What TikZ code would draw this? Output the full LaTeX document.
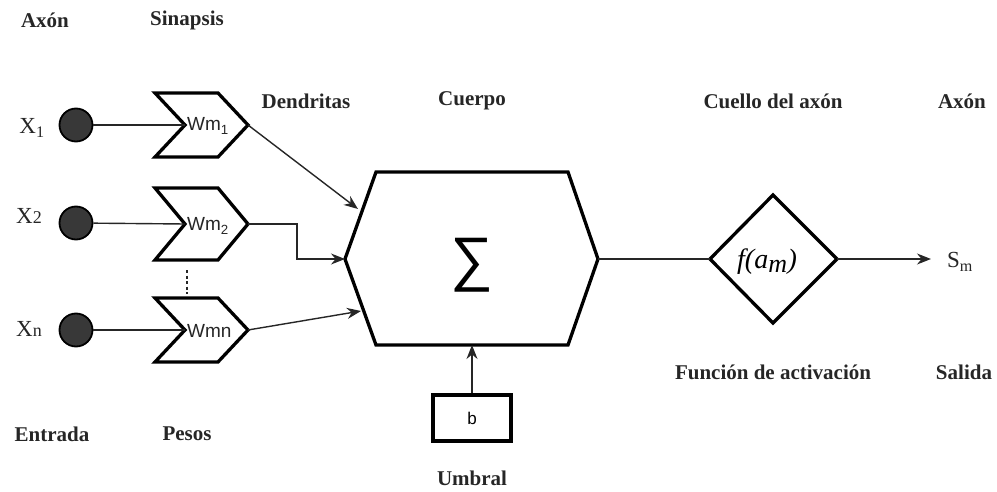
\documentclass[tikz,border=0pt]{standalone}
\usepackage{fontspec}
\setmainfont{Liberation Serif}
\newfontfamily\labsans{Liberation Sans}
\usetikzlibrary{arrows.meta}
\begin{document}
\begin{tikzpicture}[x=1pt,y=-1pt,
  shapeline/.style={draw=black,line width=3.3pt,line join=miter},
  conn/.style={draw=black!85,line width=1.4pt},
  arr/.style={conn,-{Stealth[length=14pt,width=11pt]}},
  title/.style={font=\fontsize{21}{24}\selectfont\bfseries,text=black!85,inner sep=0pt},
  varlab/.style={font=\fontsize{23}{26}\selectfont,text=black!85,inner sep=0pt},
  wlab/.style={font=\labsans\fontsize{19}{22}\selectfont,text=black!85,inner sep=0pt,anchor=west},
  neuron/.style={circle,draw=black,line width=1.8pt,fill=black!78,minimum size=33pt,inner sep=0pt}
]
\useasboundingbox (0,0) rectangle (997,492);

% headings
\node[title] (tAxonIn) at (45,20) {Axón};
\node[title] (tSin) at (187,20) {Sinapsis};
\node[title] (tDen) at (306,101) {Dendritas};
\node[title] (tCue) at (472,101) {Cuerpo};
\node[title] (tCuello) at (773,101) {Cuello del axón};
\node[title] (tAxonOut) at (962,101) {Axón};
\node[title] (tFun) at (773,372) {Función de activación};
\node[title] (tSal) at (964,372) {Salida};
\node[title] (tEnt) at (52,434) {Entrada};
\node[title] (tPes) at (187,434) {Pesos};
\node[title] (tUmb) at (472,478) {Umbral};

% input variables
\node[varlab] (x1) at (32,128) {X\textsubscript{1}};
\node[varlab] (x2) at (29,216) {X{\fontsize{18}{20}\selectfont 2}};
\node[varlab] (xn) at (29,329) {X{\fontsize{18}{20}\selectfont n}};

% input neurons
\node[neuron] (n1) at (76,125) {};
\node[neuron] (n2) at (76,223) {};
\node[neuron] (nn) at (76,330) {};

% weight chevrons: left x 155, notch 185, top-right 218, tip 248
\foreach \nm/\yc/\h in {c1/125/32, c2/224/36, cn/330/32}{
  \draw[shapeline] (155,\yc-\h) -- (218,\yc-\h) -- (248,\yc) -- (218,\yc+\h)
        -- (155,\yc+\h) -- (185,\yc) -- cycle;
  \coordinate (\nm-in) at (185,\yc);
  \coordinate (\nm-out) at (248,\yc);
}
\node[wlab] (w1) at (187,126) {Wm\textsubscript{1}};
\node[wlab] (w2) at (187,226) {Wm\textsubscript{2}};
\node[wlab] (wn) at (187,331) {Wmn};

% dots between the second and last weight
\coordinate (dotA) at (187,270);
\coordinate (dotB) at (187,294);
\draw[black!85,line width=1.6pt,dash pattern=on 3pt off 2.5pt] (dotA) -- (dotB);

% input lines
\draw[conn] (n1) -- (c1-in);
\draw[conn] (n2) -- (c2-in);
\draw[conn] (nn) -- (cn-in);

% summation body
\coordinate (hL) at (345,259);
\coordinate (hR) at (598,259);
\coordinate (hB) at (472,345);
\draw[shapeline] (376,172) -- (568,172) -- (hR) -- (568,345) -- (376,345) -- (hL) -- cycle;
\node[font=\labsans\fontsize{60}{64}\selectfont,inner sep=0pt] (sum) at (472,265) {∑};

% dendrite connectors
\coordinate (e1) at (358,209);
\coordinate (e3) at (361,311);
\coordinate (bend) at (297,224);
\draw[arr] (c1-out) -- (e1);
\draw[arr] (c2-out) -- (bend) |- (hL);
\draw[arr] (cn-out) -- (e3);

% threshold
\node[draw=black,line width=3.3pt,minimum width=78pt,minimum height=46pt,inner sep=0pt,
      font=\labsans\fontsize{17}{19}\selectfont] (b) at (472,418) {b};
\draw[arr] (b.north) -- (hB);

% activation function
\coordinate (dL) at (710,259);
\coordinate (dR) at (837,259);
\draw[shapeline] (dL) -- (773,195) -- (dR) -- (773,323) -- cycle;
\node[font=\itshape\fontsize{28}{30}\selectfont,inner sep=0pt] (fa) at (767,262) {f(a\textsubscript{\fontsize{26}{28}\selectfont m})};

% output
\node[varlab,anchor=west] (sm) at (947,262) {S\textsubscript{m}};
\coordinate (outEnd) at (931,259);
\draw[conn] (hR) -- (dL);
\draw[arr] (dR) -- (outEnd);
\end{tikzpicture}
\end{document}
